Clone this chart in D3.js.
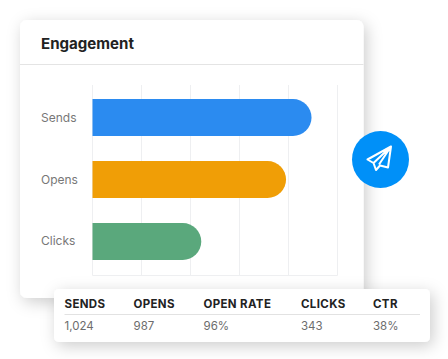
<!DOCTYPE html>
<html>
<head>
<meta charset="utf-8">
<script src="https://cdn.jsdelivr.net/npm/d3@7"></script>
<style>
  html, body { margin: 0; padding: 0; background: #fff; }
  svg { display: block; font-family: Inter, "Open Sans", sans-serif; }
</style>
</head>
<body>
<div id="chart"></div>
<script>
// values, on the chart's 0-1000 grid (no axis labels shown)
const categories = ["Sends", "Opens", "Clicks"];
const barValues = [894, 790, 444];
const barColors = ["#2b8bf0", "#f09e06", "#5aa87c"];
const gridTicks = [0, 200, 400, 600, 800, 1000];

const tableHeaders = ["SENDS", "OPENS", "OPEN RATE", "CLICKS", "CTR"];
const tableValues = ["1,024", "987", "96%", "343", "38%"];
const tableColumnX = [64.5, 133.5, 203.5, 301, 373];

const svg = d3.select("#chart").append("svg")
    .attr("width", 448)
    .attr("height", 359);

// soft shadow shared by both cards
const filter = svg.append("defs").append("filter")
    .attr("id", "shadow")
    .attr("x", "-20%").attr("y", "-30%")
    .attr("width", "140%").attr("height", "170%");
filter.append("feDropShadow")
    .attr("dx", 3).attr("dy", 4)
    .attr("stdDeviation", 8)
    .attr("flood-color", "#000")
    .attr("flood-opacity", 0.2);

// main card
svg.append("rect")
    .attr("x", 20).attr("y", 20)
    .attr("width", 343.5).attr("height", 278)
    .attr("rx", 7)
    .attr("fill", "#fff")
    .attr("filter", "url(#shadow)");

svg.append("text")
    .attr("x", 41).attr("y", 48.5)
    .attr("font-size", 15)
    .attr("font-weight", 700)
    .attr("fill", "#222")
    .attr("textLength", 93)
    .attr("lengthAdjust", "spacingAndGlyphs")
    .text("Engagement");

svg.append("line")
    .attr("x1", 20).attr("x2", 363.5)
    .attr("y1", 64.5).attr("y2", 64.5)
    .attr("stroke", "#e4e4e4");

// scales
const x = d3.scaleLinear().domain([0, 1000]).range([92.5, 337.5]);
const y = d3.scaleBand().domain(categories).range([86, 273]).paddingInner(0.403).paddingOuter(0.21);

// gridlines
svg.append("g")
    .selectAll("line")
    .data(gridTicks)
    .enter().append("line")
    .attr("x1", d => x(d)).attr("x2", d => x(d))
    .attr("y1", 85).attr("y2", 275.5)
    .attr("stroke", "#eeeff1");

svg.append("line")
    .attr("x1", x(0)).attr("x2", x(1000))
    .attr("y1", 275.5).attr("y2", 275.5)
    .attr("stroke", "#eeeff1");

// bars: square on the left, round on the right
function barPath(d, i) {
    const top = y(categories[i]);
    const h = y.bandwidth();
    const r = h / 2;
    const p = d3.path();
    p.moveTo(x(0), top);
    p.lineTo(x(d) - r, top);
    p.arc(x(d) - r, top + r, r, -Math.PI / 2, Math.PI / 2);
    p.lineTo(x(0), top + h);
    p.closePath();
    return p.toString();
}

svg.append("g")
    .selectAll("path")
    .data(barValues)
    .enter().append("path")
    .attr("d", barPath)
    .attr("fill", (d, i) => barColors[i]);

svg.append("g")
    .selectAll("text")
    .data(categories)
    .enter().append("text")
    .attr("x", 41)
    .attr("y", d => y(d) + y.bandwidth() / 2 + 4)
    .attr("font-size", 12)
    .attr("fill", "#777")
    .text(d => d);

// paper plane badge
svg.append("circle")
    .attr("cx", 380.5).attr("cy", 159.5).attr("r", 28.5)
    .attr("fill", "#0090f8");

svg.append("path")
    .attr("d", "M391 146.5L367.5 159.5L373.5 163L376 170L380 165.5L388 167.5ZM391 146.5L373.5 163M391 146.5L379 164.5")
    .attr("fill", "none")
    .attr("stroke", "#fff")
    .attr("stroke-width", 2)
    .attr("stroke-linejoin", "round");

// summary table card
svg.append("rect")
    .attr("x", 54).attr("y", 289)
    .attr("width", 376).attr("height", 53)
    .attr("rx", 5)
    .attr("fill", "#fff")
    .attr("filter", "url(#shadow)");

svg.append("g")
    .selectAll("text")
    .data(tableHeaders)
    .enter().append("text")
    .attr("x", (d, i) => tableColumnX[i])
    .attr("y", 308)
    .attr("font-size", 11.5)
    .attr("font-weight", 700)
    .attr("letter-spacing", 0.35)
    .attr("fill", "#222")
    .text(d => d);

svg.append("line")
    .attr("x1", 64.5).attr("x2", 420)
    .attr("y1", 314.5).attr("y2", 314.5)
    .attr("stroke", "#e2e2e2");

svg.append("g")
    .selectAll("text")
    .data(tableValues)
    .enter().append("text")
    .attr("x", (d, i) => tableColumnX[i])
    .attr("y", 330)
    .attr("font-size", 11.5)
    .attr("fill", "#6c6c6c")
    .text(d => d);
</script>
</body>
</html>
